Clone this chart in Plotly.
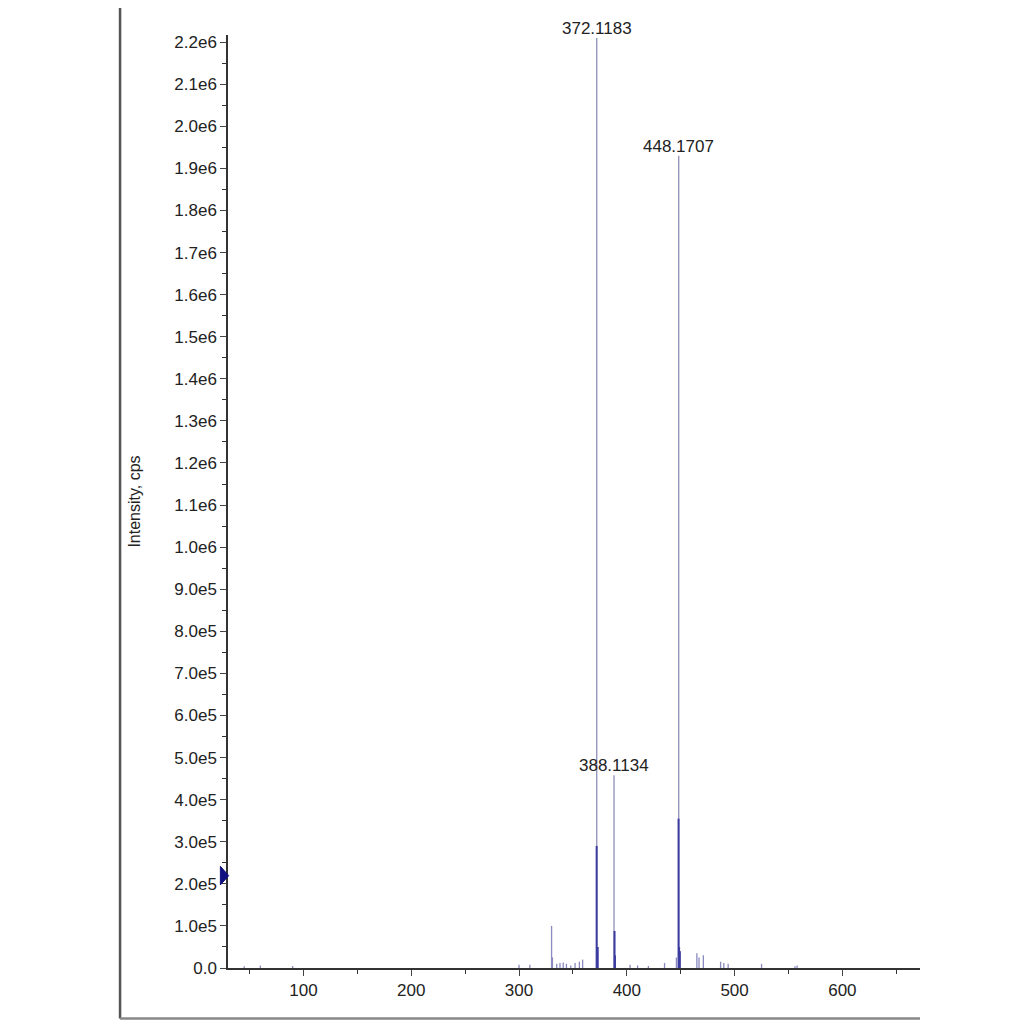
import plotly.graph_objects as go

# main peaks (m/z, intensity)
major_mz = [372.1183, 448.1707, 388.1134]
major_int = [2.21e6, 1.93e6, 4.58e5]
major_labels = ["372.1183", "448.1707", "388.1134"]

# secondary dense peaks
sec_mz = [372.0, 372.4, 448.0, 448.5, 388.6, 389.0, 449.2, 373.0]
sec_int = [2.9e5, 4.0e4, 3.55e5, 5.0e4, 8.8e4, 3.0e4, 4.0e4, 5.0e4]

# minor peaks
minor_mz = [45, 60, 90, 300, 310, 330.2, 331, 335, 338, 341, 344, 348, 352, 356, 359,
            403, 410, 420, 435, 446, 465, 467, 471, 487, 490, 494, 525, 556, 558]
minor_int = [4e3, 6e3, 5e3, 8e3, 8e3, 1.0e5, 2.5e4, 1e4, 1.2e4, 1.3e4, 1e4, 6e3, 1.2e4, 1.5e4, 2.0e4,
             8e3, 6e3, 5e3, 1.2e4, 2.5e4, 3.5e4, 2.5e4, 3.0e4, 1.5e4, 1.2e4, 1e4, 1e4, 4e3, 6e3]

def sticks(mz, inten):
    xs, ys = [], []
    for m, i in zip(mz, inten):
        xs += [m, m, None]
        ys += [0, i, None]
    return xs, ys

fig = go.Figure()
x, y = sticks(minor_mz, minor_int)
fig.add_trace(go.Scatter(x=x, y=y, mode="lines", line=dict(color="#8a8ac0", width=1.3), hoverinfo="skip"))
x, y = sticks(major_mz, major_int)
fig.add_trace(go.Scatter(x=x, y=y, mode="lines", line=dict(color="#8585b0", width=1.2), hoverinfo="skip"))
x, y = sticks(sec_mz, sec_int)
fig.add_trace(go.Scatter(x=x, y=y, mode="lines", line=dict(color="#3c3ca0", width=2), hoverinfo="skip"))

for m, i, t in zip(major_mz, major_int, major_labels):
    fig.add_annotation(x=m, y=i, text=t, showarrow=False, yanchor="bottom", yshift=-2,
                       font=dict(size=17, color="#222"))

tickvals = [k * 1e5 for k in range(0, 23)]
ticktext = ["0.0"] + [f"{k}.0e5" for k in range(1, 10)] + [f"{k/10:.1f}e6" for k in range(10, 23)]

fig.update_layout(
    width=1024, height=1024, autosize=False,
    margin=dict(l=220, r=112, t=27, b=64),
    paper_bgcolor="white", plot_bgcolor="white", showlegend=False,
    font=dict(family="Liberation Sans, Arial", size=17, color="#222"),
    xaxis=dict(range=[30, 672], tickvals=[100, 200, 300, 400, 500, 600], ticks="outside",
               automargin=False,
               ticklen=6, showgrid=False, zeroline=False, showline=True, linecolor="#333",
               linewidth=1.5, minor=dict(dtick=50, tick0=0, ticks="outside", ticklen=4, tickcolor="#333")),
    yaxis=dict(range=[0, 2.217e6], tickvals=tickvals, ticktext=ticktext, ticks="outside",
               automargin=False,
               ticklen=6, showgrid=False, zeroline=False, showline=True, linecolor="#333",
               linewidth=1.5, title=dict(text="Intensity, cps", font=dict(size=16), standoff=30),
               minor=dict(dtick=5e4, tick0=0, ticks="outside", ticklen=4, tickcolor="#333")),
)

# outer frame lines
fig.add_shape(type="line", xref="paper", yref="paper", x0=-0.156, x1=-0.156, y0=-0.054, y1=1.06,
              line=dict(color="#555", width=2.5))
fig.add_shape(type="line", xref="paper", yref="paper", x0=-0.156, x1=1.0, y0=-0.054, y1=-0.054,
              line=dict(color="#888", width=2.5))
# marker triangle on y axis
fig.add_shape(type="path", xref="paper", yref="paper",
              path="M -0.011 0.109 L 0.001 0.099 L -0.011 0.089 Z",
              fillcolor="#101080", line=dict(color="#101080", width=1))

fig.write_html("out.html")
